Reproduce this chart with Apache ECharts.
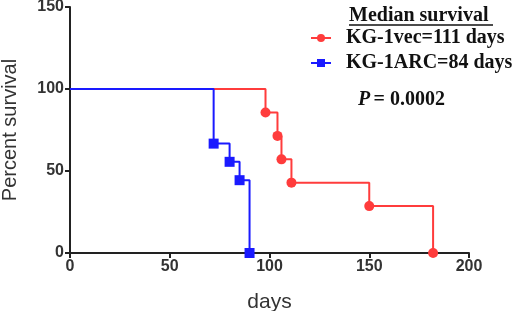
<!DOCTYPE html>
<html>
<head>
<meta charset="utf-8">
<script src="https://cdn.jsdelivr.net/npm/echarts@6/dist/echarts.min.js"></script>
<style>
  html, body { margin: 0; padding: 0; background: #fff; }
  #chart { width: 520px; height: 311px; }
</style>
</head>
<body>
<div id="chart"></div>
<script>
// Kaplan-Meier steps (days, percent survival)
const vecDays = [0, 98, 104, 106, 111, 150, 182]
const vecSurvival = [100, 85.7, 71.4, 57.1, 42.9, 28.6, 0]
const arcDays = [0, 72, 80, 85, 90]
const arcSurvival = [100, 66.7, 55.6, 44.4, 0]
const seriesNames = ['KG-1vec=111 days', 'KG-1ARC=84 days']
const xTicks = [0, 50, 100, 150, 200]
const yTicks = [0, 50, 100, 150]

const toPoints = (xs, ys) => xs.map((x, i) => ({
  value: [x, ys[i]],
  symbol: i === 0 ? 'none' : undefined
}))

const chart = echarts.init(document.getElementById('chart'))

const axisFont = { fontFamily: 'Liberation Sans, Arial', fontWeight: 'bold', fontSize: 16, color: '#333', margin: 6 }

chart.setOption({
  animation: false,
  grid: { left: 70, right: 51, top: 7, bottom: 58, containLabel: false, outerBoundsMode: 'none' },
  xAxis: {
    type: 'value',
    min: xTicks[0],
    max: xTicks[xTicks.length - 1],
    interval: 50,
    name: 'days',
    nameLocation: 'middle',
    nameGap: 39,
    nameTextStyle: { fontFamily: 'Liberation Sans, Arial', fontSize: 21, color: '#333' },
    axisLine: { lineStyle: { color: '#222', width: 2 } },
    axisTick: { length: 5, lineStyle: { color: '#222', width: 2 } },
    axisLabel: axisFont,
    splitLine: { show: false }
  },
  yAxis: {
    type: 'value',
    min: yTicks[0],
    max: yTicks[yTicks.length - 1],
    interval: 50,
    name: 'Percent survival',
    nameLocation: 'middle',
    nameGap: 50,
    nameTextStyle: { fontFamily: 'Liberation Sans, Arial', fontSize: 20, color: '#333' },
    axisLine: { show: true, lineStyle: { color: '#222', width: 2 } },
    axisTick: { show: true, length: 5, lineStyle: { color: '#222', width: 2 } },
    axisLabel: axisFont,
    splitLine: { show: false }
  },
  legend: {
    orient: 'vertical',
    left: 305,
    top: 23,
    itemGap: 5,
    itemWidth: 20,
    itemHeight: 10,
    textStyle: {
      fontFamily: 'Liberation Serif, Times New Roman',
      fontWeight: 'bold',
      fontSize: 20,
      color: '#111',
      padding: [0, 0, 0, 10]
    },
    data: seriesNames
  },
  graphic: [
    {
      type: 'text',
      left: 349,
      top: 6,
      style: { text: 'Median survival', font: 'bold 20px "Liberation Serif"', fill: '#111' }
    },
    {
      type: 'line',
      shape: { x1: 349, y1: 25, x2: 493, y2: 25 },
      style: { stroke: '#111', lineWidth: 1.5 }
    },
    {
      type: 'text',
      left: 358,
      top: 90,
      style: {
        text: '{p|P} {v|= 0.0002}',
        rich: {
          p: { font: 'italic bold 20px "Liberation Serif"', fill: '#111' },
          v: { font: 'bold 20px "Liberation Serif"', fill: '#111' }
        }
      }
    }
  ],
  series: [
    {
      name: seriesNames[0],
      type: 'line',
      step: 'end',
      data: toPoints(vecDays, vecSurvival),
      symbol: 'circle',
      symbolSize: 10,
      color: '#ff3c3c',
      lineStyle: { color: '#ff3c3c', width: 2 },
      itemStyle: { color: '#ff3c3c' },
      z: 2
    },
    {
      name: seriesNames[1],
      type: 'line',
      step: 'end',
      data: toPoints(arcDays, arcSurvival),
      symbol: 'rect',
      symbolSize: 10,
      color: '#1a1aff',
      lineStyle: { color: '#1a1aff', width: 2 },
      itemStyle: { color: '#1a1aff' },
      z: 3
    }
  ]
})
</script>
</body>
</html>
